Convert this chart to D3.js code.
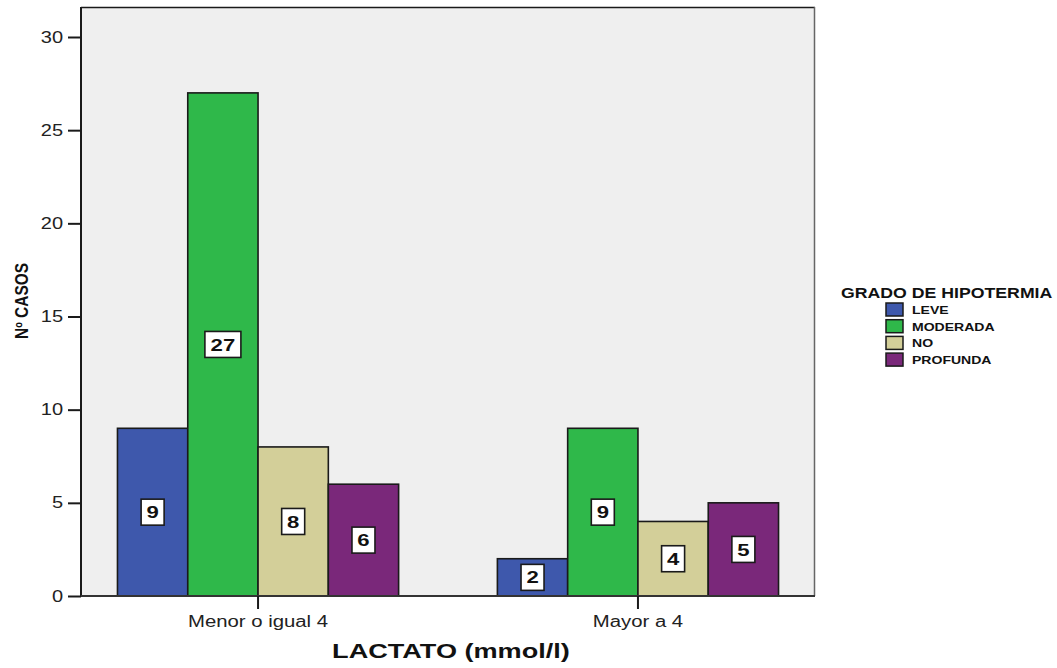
<!DOCTYPE html>
<html>
<head>
<meta charset="utf-8">
<script src="https://cdn.jsdelivr.net/npm/d3@7/dist/d3.min.js"></script>
<style>
  html, body { margin: 0; padding: 0; background: #ffffff; }
  svg { display: block; font-family: "Liberation Sans", Arial, sans-serif; }
</style>
</head>
<body>
<svg id="chart" width="1057" height="668"></svg>
<script>
// Lactate groups on the x axis
const categories = ["Menor o igual 4", "Mayor a 4"];
// Hypothermia grades (legend order)
const series = ["LEVE", "MODERADA", "NO", "PROFUNDA"];
// Case counts per grade, one value per lactate group
const leve = [9, 2];
const moderada = [27, 9];
const no = [8, 4];
const profunda = [6, 5];
const yTicks = [0, 5, 10, 15, 20, 25, 30];

const colors = ["#3e58ac", "#2fb84a", "#d3cf99", "#7a287a"];
const valuesBySeries = [leve, moderada, no, profunda];

const svg = d3.select("#chart");
const plot = { left: 81, right: 815, top: 7, bottom: 596 };

// the chart's type is set wide; stretch each string to its natural wide width
function widen(sel, factor) {
  sel.each(function () {
    const w = this.getComputedTextLength();
    d3.select(this).attr("textLength", w * factor).attr("lengthAdjust", "spacingAndGlyphs");
  });
}

const x = d3.scaleBand()
  .domain(categories)
  .range([plot.left, plot.right])
  .paddingInner(0.26)
  .paddingOuter(0.096);

const xs = d3.scaleBand()
  .domain(series)
  .range([0, x.bandwidth()])
  .padding(0);

const y = d3.scaleLinear()
  .domain([0, 30])
  .range([plot.bottom, 37]);

// plot background
svg.append("rect")
  .attr("x", plot.left).attr("y", plot.top)
  .attr("width", plot.right - plot.left).attr("height", plot.bottom - plot.top)
  .attr("fill", "#efefef");

// frame: dark top, grey right
svg.append("line")
  .attr("x1", plot.left).attr("x2", plot.right)
  .attr("y1", plot.top + 0.5).attr("y2", plot.top + 0.5)
  .attr("stroke", "#1a1a1a").attr("stroke-width", 1.5);
svg.append("line")
  .attr("x1", plot.right - 0.5).attr("x2", plot.right - 0.5)
  .attr("y1", plot.top).attr("y2", plot.bottom)
  .attr("stroke", "#666").attr("stroke-width", 1.5);

// bars
const data = [];
categories.forEach((c, ci) => {
  series.forEach((s, si) => {
    data.push({ cat: c, ser: s, value: valuesBySeries[si][ci], color: colors[si] });
  });
});

svg.append("g").selectAll("rect.bar")
  .data(data)
  .join("rect")
  .attr("class", "bar")
  .attr("x", d => x(d.cat) + xs(d.ser))
  .attr("y", d => y(d.value))
  .attr("width", xs.bandwidth())
  .attr("height", d => y(0) - y(d.value))
  .attr("fill", d => d.color)
  .attr("stroke", "#1a1a1a")
  .attr("stroke-width", 1.6);

// value labels in white boxes at bar mid-height
const labels = svg.append("g").selectAll("g.lab")
  .data(data)
  .join("g")
  .attr("class", "lab")
  .attr("transform", d => `translate(${x(d.cat) + xs(d.ser) + xs.bandwidth() / 2},${(y(d.value) + y(0)) / 2})`);

labels.append("rect")
  .attr("x", d => String(d.value).length > 1 ? -18 : -11.5)
  .attr("y", -13)
  .attr("width", d => String(d.value).length > 1 ? 36 : 23)
  .attr("height", 26)
  .attr("fill", "#ffffff")
  .attr("stroke", "#1a1a1a")
  .attr("stroke-width", 1.6);

labels.append("text")
  .attr("text-anchor", "middle")
  .attr("dy", "0.36em")
  .attr("font-size", 17)
  .attr("font-weight", "bold")
  .attr("fill", "#111")
  .text(d => d.value)
  .call(widen, 1.3);

// y axis
const yAxis = d3.axisLeft(y).tickValues(yTicks).tickSize(13).tickPadding(5);
const gy = svg.append("g")
  .attr("transform", `translate(${plot.left},0)`)
  .call(yAxis);
gy.select(".domain").attr("d", `M0,${plot.top}V${plot.bottom}`).attr("stroke", "#1a1a1a").attr("stroke-width", 2);
gy.selectAll(".tick line").attr("stroke", "#1a1a1a").attr("stroke-width", 2);
gy.selectAll(".tick text").attr("font-size", 16).attr("fill", "#222")
  .attr("font-family", "'Liberation Sans', Arial, sans-serif")
  .call(widen, 1.25);

// x axis
const xAxis = d3.axisBottom(x).tickSize(13).tickPadding(7);
const gx = svg.append("g")
  .attr("transform", `translate(0,${plot.bottom})`)
  .call(xAxis);
gx.select(".domain").attr("d", `M${plot.left},0H${plot.right}`).attr("stroke", "#333").attr("stroke-width", 2);
gx.selectAll(".tick line").attr("stroke", "#1a1a1a").attr("stroke-width", 2);
gx.selectAll(".tick text").attr("font-size", 16).attr("fill", "#222")
  .attr("font-family", "'Liberation Sans', Arial, sans-serif")
  .call(widen, 1.27);

// axis titles
svg.append("text")
  .attr("x", (plot.left + plot.right) / 2 + 3)
  .attr("y", 658)
  .attr("text-anchor", "middle")
  .attr("font-size", 21)
  .attr("font-weight", "bold")
  .attr("fill", "#111")
  .text("LACTATO (mmol/l)")
  .call(widen, 1.29);

svg.append("text")
  .attr("transform", "translate(28,301) rotate(-90)")
  .attr("text-anchor", "middle")
  .attr("font-size", 18)
  .attr("font-weight", "bold")
  .attr("fill", "#111")
  .attr("textLength", 76)
  .attr("lengthAdjust", "spacingAndGlyphs")
  .text("Nº CASOS");

// legend
const legend = svg.append("g");
legend.append("text")
  .attr("x", 841).attr("y", 298)
  .attr("font-size", 14.5)
  .attr("font-weight", "bold")
  .attr("fill", "#111")
  .text("GRADO DE HIPOTERMIA")
  .call(widen, 1.22);

const items = legend.selectAll("g.item")
  .data(series)
  .join("g")
  .attr("class", "item")
  .attr("transform", (d, i) => `translate(886,${303 + i * 16.7})`);
items.append("rect")
  .attr("width", 17).attr("height", 13)
  .attr("fill", (d, i) => colors[i])
  .attr("stroke", "#1a1a1a").attr("stroke-width", 1.5);
items.append("text")
  .attr("x", 26).attr("y", 11)
  .attr("font-size", 11.5)
  .attr("font-weight", "bold")
  .attr("fill", "#111")
  .text(d => d)
  .call(widen, 1.22);
</script>
</body>
</html>
